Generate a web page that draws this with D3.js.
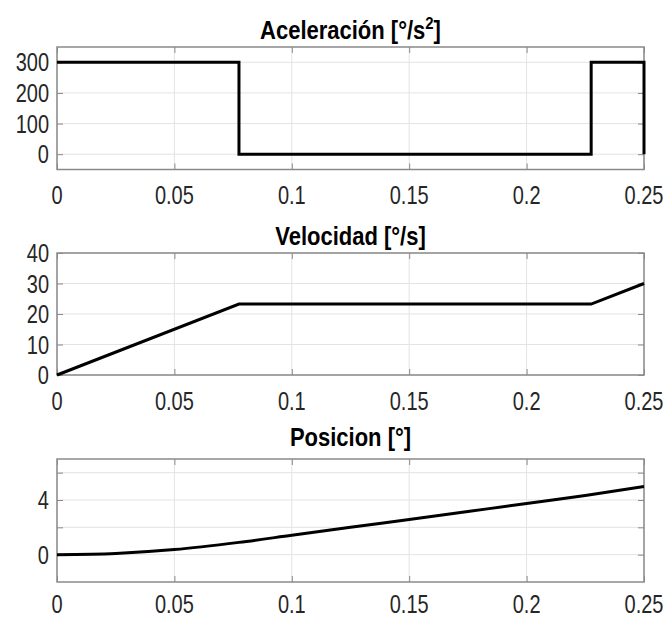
<!DOCTYPE html>
<html>
<head>
<meta charset="utf-8">
<script src="https://cdn.jsdelivr.net/npm/d3@7"></script>
<style>
  body { margin: 0; background: #fff; }
  svg text { font-family: "Liberation Sans", Arial, sans-serif; }
</style>
</head>
<body>
<div id="chart"></div>
<script>
// Shared x ticks
const xTicks = [0, 0.05, 0.1, 0.15, 0.2, 0.25];
const xTickLabels = ["0", "0.05", "0.1", "0.15", "0.2", "0.25"];

// Acceleration (step profile)
const accTime = [0, 0.0775, 0.0775, 0.2275, 0.2275, 0.25, 0.25];
const accValues = [300, 300, 0, 0, 300, 300, 0];
const accTicks = [0, 100, 200, 300];
const accTickLabels = ["0", "100", "200", "300"];

// Velocity
const velTime = [0, 0.0775, 0.2275, 0.25];
const velValues = [0, 23.25, 23.25, 30];
const velTicks = [0, 10, 20, 30, 40];
const velTickLabels = ["0", "10", "20", "30", "40"];

// Position
const posTime = [0, 0.025, 0.05, 0.0775, 0.1, 0.125, 0.15, 0.175, 0.2, 0.225, 0.25];
const posValues = [0, 0.09, 0.37, 0.9, 1.42, 2.0, 2.58, 3.16, 3.74, 4.33, 4.99];
const posTicks = [0, 2, 4, 6];
const posTickLabels = ["0", "", "4", ""];

const width = 672, height = 622;
const left = 57, right = 644;
const narrow = 0.8; // condensed look of the tick labels

const svg = d3.select("#chart")
  .append("svg")
  .attr("width", width)
  .attr("height", height);

const panels = [
  { title: "Aceleración [°/s", sup: "2", t: accTime, v: accValues, ylim: [-50, 350],
    ticks: accTicks, labels: accTickLabels, top: 47, bottom: 169.5, titleY: 39, xLabY: 204, curve: d3.curveLinear },
  { title: "Velocidad [°/s]", t: velTime, v: velValues, ylim: [0, 40],
    ticks: velTicks, labels: velTickLabels, top: 253, bottom: 375, titleY: 245, xLabY: 410, curve: d3.curveLinear },
  { title: "Posicion [°]", t: posTime, v: posValues, ylim: [-2, 7],
    ticks: posTicks, labels: posTickLabels, top: 459, bottom: 582, titleY: 446, xLabY: 613, curve: d3.curveMonotoneX }
];

const x = d3.scaleLinear().domain([0, 0.25]).range([left, right]);

panels.forEach(function(p) {
  const y = d3.scaleLinear().domain(p.ylim).range([p.bottom, p.top]);
  const g = svg.append("g");

  // Grid lines
  g.selectAll(".gx").data(xTicks).enter().append("line")
    .attr("x1", d => x(d)).attr("x2", d => x(d))
    .attr("y1", p.top).attr("y2", p.bottom)
    .attr("stroke", "#e3e3e3").attr("stroke-width", 1);
  g.selectAll(".gy").data(p.ticks).enter().append("line")
    .attr("x1", left).attr("x2", right)
    .attr("y1", d => y(d)).attr("y2", d => y(d))
    .attr("stroke", "#e3e3e3").attr("stroke-width", 1);

  // Axes with inward ticks on all four sides
  const axisColor = "#8a8a8a";
  g.append("g").attr("transform", "translate(0," + p.bottom + ")")
    .call(d3.axisBottom(x).tickValues(xTicks).tickSize(-6).tickFormat(""));
  g.append("g").attr("transform", "translate(0," + p.top + ")")
    .call(d3.axisTop(x).tickValues(xTicks).tickSize(-6).tickFormat(""));
  g.append("g").attr("transform", "translate(" + left + ",0)")
    .call(d3.axisLeft(y).tickValues(p.ticks).tickSize(-6).tickFormat(""));
  g.append("g").attr("transform", "translate(" + right + ",0)")
    .call(d3.axisRight(y).tickValues(p.ticks).tickSize(-6).tickFormat(""));
  g.selectAll(".domain").remove();
  g.selectAll(".tick line").attr("stroke", axisColor);

  // Box
  g.append("rect")
    .attr("x", left).attr("y", p.top)
    .attr("width", right - left).attr("height", p.bottom - p.top)
    .attr("fill", "none").attr("stroke", axisColor).attr("stroke-width", 1.5);

  // Tick labels (horizontally condensed)
  g.selectAll(".xl").data(xTicks).enter().append("text")
    .attr("transform", d => "translate(" + x(d) + "," + p.xLabY + ") scale(" + narrow + ",1)")
    .attr("text-anchor", "middle")
    .attr("font-size", 25).attr("fill", "#262626")
    .text((d, i) => xTickLabels[i]);
  g.selectAll(".yl").data(p.ticks).enter().append("text")
    .attr("transform", d => "translate(" + (left - 8) + "," + y(d) + ") scale(" + narrow + ",1)")
    .attr("dy", "0.36em")
    .attr("text-anchor", "end")
    .attr("font-size", 25).attr("fill", "#262626")
    .text((d, i) => p.labels[i]);

  // Data line
  const line = d3.line()
    .x((d, i) => x(p.t[i]))
    .y(d => y(d))
    .curve(p.curve);
  g.append("path")
    .datum(p.v)
    .attr("d", line)
    .attr("fill", "none")
    .attr("stroke", "#000")
    .attr("stroke-width", 3);

  // Title
  const title = svg.append("text")
    .attr("transform", "translate(" + ((left + right) / 2) + "," + p.titleY + ") scale(0.88,1)")
    .attr("text-anchor", "middle")
    .attr("font-size", 25).attr("font-weight", "bold").attr("fill", "#000");
  title.append("tspan").text(p.title);
  if (p.sup) {
    title.append("tspan").attr("dy", -10).attr("font-size", 17).text(p.sup);
    title.append("tspan").attr("dy", 10).text("]");
  }
});
</script>
</body>
</html>
